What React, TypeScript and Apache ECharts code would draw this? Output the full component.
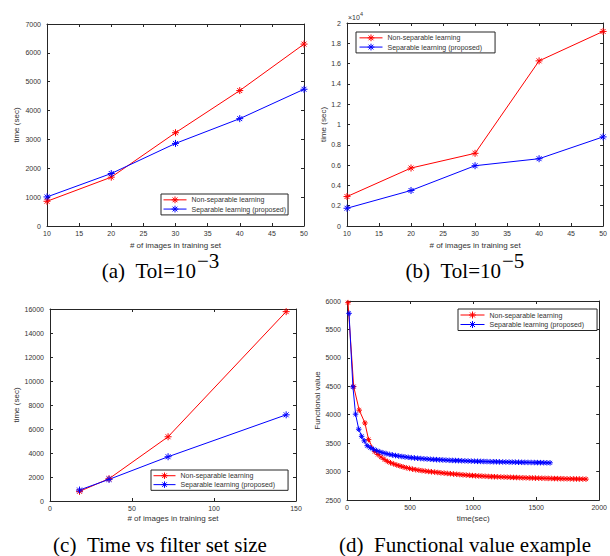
import React, { useEffect, useRef } from "react";
import * as echarts from "echarts";

// (a) Tol=1e-3
const xA = [10, 20, 30, 40, 50];
const nonSepA = [857, 1692, 3233, 4693, 6304];
const sepA = [1008, 1819, 2862, 3720, 4739];

// (b) Tol=1e-5 (seconds)
const xB = [10, 20, 30, 40, 50];
const nonSepB = [2900, 5710, 7160, 16270, 19170];
const sepB = [1750, 3500, 5940, 6630, 8780];

// (c) time vs filter set size
const xC = [18, 36, 72, 144];
const nonSepC = [804, 1858, 5352, 15779];
const sepC = [915, 1802, 3688, 7182];

// (d) functional value example
const redTime = [8, 53, 97, 142, 171, 220, 245, 270, 295, 320, 345, 370, 395, 420, 445, 470, 495, 520, 545, 570, 595, 620, 645, 670, 695, 720, 745, 770, 795, 820, 845, 870, 895, 920, 945, 970, 995, 1020, 1045, 1070, 1095, 1120, 1145, 1170, 1195, 1220, 1245, 1270, 1295, 1320, 1345, 1370, 1395, 1420, 1445, 1470, 1495, 1520, 1545, 1570, 1595, 1620, 1645, 1670, 1695, 1720, 1745, 1770, 1795, 1820, 1845, 1870, 1895];
const redVal = [5971, 4495, 4080, 3855, 3562, 3350, 3300, 3255, 3215, 3180, 3155, 3135, 3115, 3098, 3082, 3068, 3055, 3043, 3033, 3024, 3016, 3009, 3002, 2996, 2990, 2984, 2978, 2972, 2967, 2962, 2957, 2952, 2947, 2942, 2938, 2934, 2930, 2926, 2923, 2920, 2917, 2914, 2911, 2909, 2907, 2905, 2903, 2901, 2899, 2897, 2895, 2893, 2891, 2890, 2888, 2887, 2885, 2884, 2882, 2881, 2880, 2879, 2877, 2876, 2875, 2874, 2873, 2872, 2871, 2870, 2869, 2868, 2867];
const blueTime = [16, 47, 68, 93, 116, 137, 160, 185, 210, 235, 260, 285, 310, 335, 360, 385, 410, 435, 460, 485, 510, 535, 560, 585, 610, 635, 660, 685, 710, 735, 760, 785, 810, 835, 860, 885, 910, 935, 960, 985, 1010, 1035, 1060, 1085, 1110, 1135, 1160, 1185, 1210, 1235, 1260, 1285, 1310, 1335, 1360, 1385, 1410, 1435, 1460, 1485, 1510, 1535, 1560, 1585, 1610];
const blueVal = [5783, 4490, 4010, 3745, 3620, 3540, 3455, 3420, 3392, 3368, 3348, 3331, 3316, 3303, 3292, 3282, 3273, 3265, 3258, 3251, 3245, 3239, 3234, 3229, 3225, 3221, 3217, 3213, 3210, 3207, 3204, 3201, 3198, 3196, 3194, 3192, 3190, 3188, 3186, 3184, 3182, 3180, 3179, 3177, 3176, 3174, 3173, 3172, 3170, 3169, 3168, 3167, 3166, 3165, 3164, 3163, 3162, 3161, 3160, 3159, 3158, 3157, 3156, 3155, 3154];

const NON = "Non-separable learning";
const SEP = "Separable learning (proposed)";
const RED = "#ff0000";
const BLUE = "#0000ff";
const AX = "#262626";
const TXT = "#333333";
const SANS = "'Liberation Sans', Arial, sans-serif";
const SERIF_FONT = "21px 'Liberation Serif', 'Times New Roman', serif";
const AST = "path://M5 0L5 10M0 5L10 5M1.5 1.5L8.5 8.5M1.5 8.5L8.5 1.5";
const LEG_ICON = "path://M0 5L24 5M12 1.5L12 8.5M8.5 5L15.5 5M9.5 2.5L14.5 7.5M9.5 7.5L14.5 2.5";

const pairs = (xs: number[], ys: number[]) => xs.map((x, i) => [x, ys[i]]);

function axis(dim: "x" | "y", gridIndex: number, min: number, max: number, interval: number, mirror: boolean, name?: string, nameGap?: number, formatter?: (v: number) => string) {
  const a: any = {
    type: "value",
    gridIndex,
    min,
    max,
    interval,
    position: dim === "x" ? (mirror ? "top" : "bottom") : (mirror ? "right" : "left"),
    axisLine: { show: true, onZero: false, lineStyle: { color: AX, width: 1 } },
    axisTick: { show: true, inside: true, length: 3, lineStyle: { color: AX, width: 1 } },
    axisLabel: {
      show: !mirror,
      fontSize: 7,
      color: TXT,
      fontFamily: SANS,
      margin: dim === "x" ? 4 : 6,
      formatter: formatter || ((v: number) => String(v)),
    },
    splitLine: { show: false },
  };
  if (!mirror && name) {
    a.name = name;
    a.nameLocation = "middle";
    a.nameGap = nameGap;
    a.nameTextStyle = { fontSize: 8, color: TXT, fontFamily: SANS };
  }
  return a;
}

function lineSeries(name: string, color: string, idx: number, data: number[][], size: number) {
  return {
    type: "line",
    name,
    xAxisIndex: idx,
    yAxisIndex: idx,
    data,
    symbol: AST,
    symbolSize: size,
    showAllSymbol: true,
    lineStyle: { color, width: 1 },
    itemStyle: { color, borderColor: color, borderWidth: 1 },
  };
}

function legend(left: number, top: number, itemWidth: number, padding: number[]) {
  return {
    left,
    top,
    orient: "vertical",
    data: [
      { name: NON, icon: LEG_ICON, itemStyle: { color: RED, borderColor: RED, borderWidth: 1 } },
      { name: SEP, icon: LEG_ICON, itemStyle: { color: BLUE, borderColor: BLUE, borderWidth: 1 } },
    ],
    itemWidth,
    itemHeight: 8,
    itemGap: 1.5,
    padding,
    borderColor: AX,
    borderWidth: 1,
    borderRadius: 0,
    backgroundColor: "#ffffff",
    textStyle: { fontSize: 7, color: TXT, fontFamily: SANS },
    selectedMode: false,
  };
}

function caption(x: number, y: number, main: string, sup?: string) {
  const els: any[] = [];
  els.push({
    type: "text",
    x,
    y,
    style: { text: main, font: SERIF_FONT, fill: "#000", align: sup ? "right" : "center", verticalAlign: "middle" },
  });
  if (sup) {
    els.push({
      type: "text",
      x: x + 1,
      y: y - 10,
      style: { text: sup, font: SERIF_FONT, fill: "#000", align: "left", verticalAlign: "middle" },
    });
  }
  return els;
}

export default function App() {
  const ref = useRef<HTMLDivElement>(null);
  useEffect(() => {
    if (!ref.current) return;
    const chart = echarts.init(ref.current, undefined, { renderer: "svg" });
    const option: any = {
      animation: false,
      backgroundColor: "#ffffff",
      grid: [
        { left: 47, top: 24, width: 257, height: 202 },
        { left: 347, top: 23, width: 260, height: 203 },
        { left: 50, top: 309, width: 246, height: 192 },
        { left: 347, top: 301, width: 255, height: 199 },
      ],
      xAxis: [
        axis("x", 0, 10, 50, 5, false, "# of images in training set", 15),
        axis("x", 1, 10, 50, 5, false, "# of images in training set", 15),
        axis("x", 2, 0, 150, 50, false, "# of images in training set", 13),
        axis("x", 3, 0, 2000, 500, false, "time(sec)", 14),
        axis("x", 0, 10, 50, 5, true),
        axis("x", 1, 10, 50, 5, true),
        axis("x", 2, 0, 150, 50, true),
        axis("x", 3, 0, 2000, 500, true),
      ],
      yAxis: [
        axis("y", 0, 0, 7000, 1000, false, "time (sec)", 27),
        axis("y", 1, 0, 20000, 2000, false, "time (sec)", 18, (v: number) => String(Math.round(v / 1000) / 10)),
        axis("y", 2, 0, 16000, 2000, false, "time (sec)", 30),
        axis("y", 3, 2500, 6000, 500, false, "Functional value", 25),
        axis("y", 0, 0, 7000, 1000, true),
        axis("y", 1, 0, 20000, 2000, true),
        axis("y", 2, 0, 16000, 2000, true),
        axis("y", 3, 2500, 6000, 500, true),
      ],
      legend: [
        legend(161, 194, 23, [2, 2, 2, 2]),
        legend(356, 32, 23, [2, 13, 2, 3]),
        legend(151, 470, 22, [2, 13, 2, 2]),
        legend(458, 309, 24, [2, 13, 2, 2]),
      ],
      series: [
        lineSeries(NON, RED, 0, pairs(xA, nonSepA), 7),
        lineSeries(SEP, BLUE, 0, pairs(xA, sepA), 7),
        lineSeries(NON, RED, 1, pairs(xB, nonSepB), 7),
        lineSeries(SEP, BLUE, 1, pairs(xB, sepB), 7),
        lineSeries(NON, RED, 2, pairs(xC, nonSepC), 7),
        lineSeries(SEP, BLUE, 2, pairs(xC, sepC), 7),
        lineSeries(NON, RED, 3, pairs(redTime, redVal), 5.5),
        lineSeries(SEP, BLUE, 3, pairs(blueTime, blueVal), 5.5),
      ],
      graphic: [
        { type: "text", x: 348, y: 17, style: { text: "×10", fontSize: 7, fontFamily: SANS, fill: TXT, align: "left", verticalAlign: "middle" } },
        { type: "text", x: 360, y: 14, style: { text: "4", fontSize: 5.5, fontFamily: SANS, fill: TXT, align: "left", verticalAlign: "middle" } },
        ...caption(196, 271, "(a)\u2002Tol=10", "\u22123"),
        ...caption(501, 271, "(b)\u2002Tol=10", "\u22125"),
        ...caption(160, 545, "(c)\u2002Time vs filter set size"),
        ...caption(465, 545, "(d)\u2002Functional value example"),
      ],
    };
    chart.setOption(option);
    return () => chart.dispose();
  }, []);
  return <div ref={ref} style={{ position: "absolute", left: 0, top: 0, width: 610, height: 556 }} />;
}
